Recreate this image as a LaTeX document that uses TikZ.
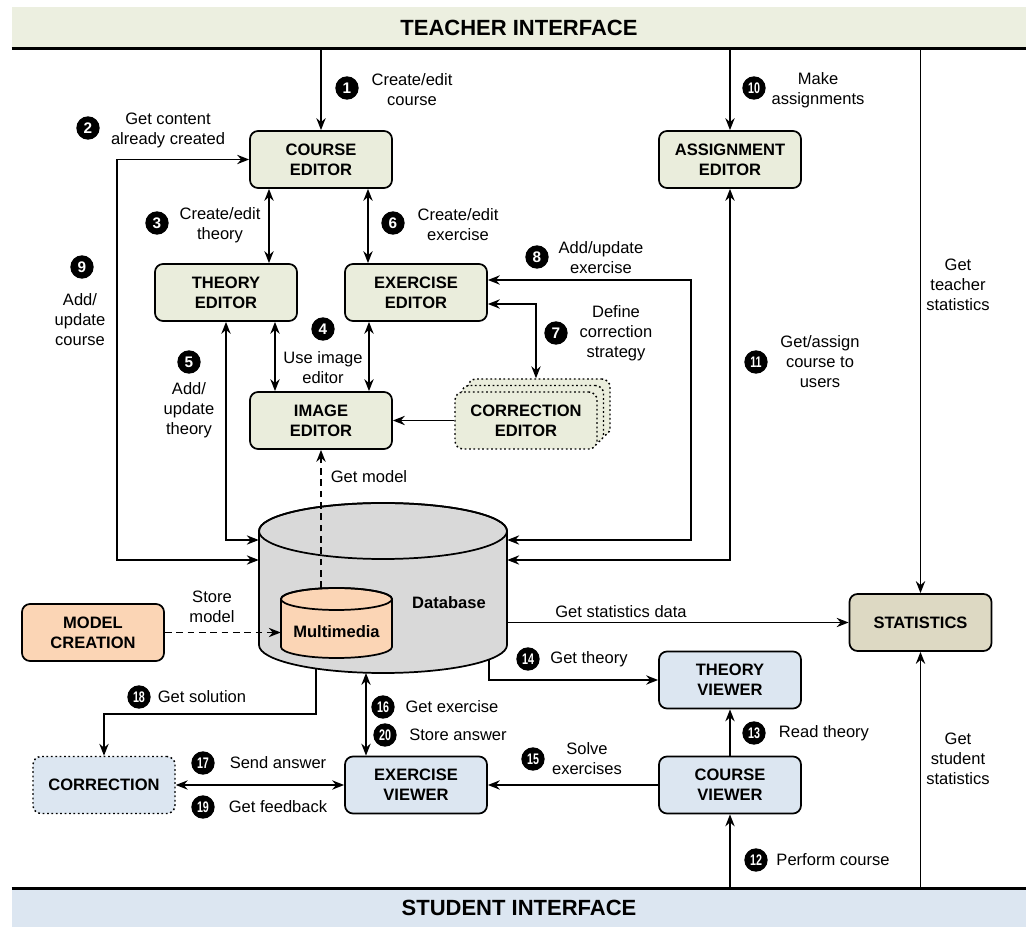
\documentclass[tikz,border=0pt]{standalone}
\usepackage{fontspec}
\setmainfont{Liberation Sans}
\usepackage{graphicx}
\usetikzlibrary{arrows.meta,calc}
\definecolor{edfill}{HTML}{EAEDDC}
\definecolor{tfill}{HTML}{ECEFE0}
\definecolor{vfill}{HTML}{DCE6F1}
\definecolor{stfill}{HTML}{DDD9C3}
\definecolor{peach}{HTML}{FBD5B5}
\definecolor{dbgray}{HTML}{D9D9D9}
\newcommand\lblfont{\fontsize{12.4}{15}\selectfont}
\newcommand\boxfont{\fontsize{12.4}{15}\selectfont\bfseries}
\newcommand\nn[1]{\scalebox{0.7}[1]{#1}}
\begin{document}
\begin{tikzpicture}[x=0.75pt,y=-0.75pt,
  >={Stealth[length=9pt,width=7pt,inset=3pt]},
  conn/.style={line width=1.1pt},
  dsh/.style={dash pattern=on 5pt off 3.5pt},
  box/.style={draw, line width=1.3pt, rounded corners=6pt, minimum width=106.5pt, minimum height=42.75pt, align=center, font=\boxfont, inner sep=2pt},
  edbox/.style={box, fill=edfill},
  vbox/.style={box, fill=vfill},
  dotbox/.style={box, dotted, line width=1.1pt},
  badge/.style={circle, fill=black, text=white, inner sep=0pt, minimum size=17.5pt, font=\fontsize{11.5}{11.5}\selectfont\bfseries},
  lab/.style={align=center, font=\lblfont, inner sep=0pt},
  bar/.style={inner sep=0pt, minimum width=760.5pt, font=\fontsize{16.5}{18}\selectfont\bfseries}
]
\useasboundingbox (0,0) rectangle (1026,927);

% interface bars
\node[bar, fill=tfill, minimum height=30.75pt] (tb) at (519,27.5) {TEACHER INTERFACE};
\draw[line width=2.2pt] (tb.south west) -- (tb.south east);
\node[bar, fill=vfill, minimum height=28.5pt] (sb) at (519,908) {STUDENT INTERFACE};
\draw[line width=2.2pt] (sb.north west) -- (sb.north east);

% editors
\node[edbox] (ce) at (321,159.5) {COURSE\\EDITOR};
\node[edbox] (ae) at (730,159.5) {ASSIGNMENT\\EDITOR};
\node[edbox] (te) at (226,292.5) {THEORY\\EDITOR};
\node[edbox] (ee) at (416,292.5) {EXERCISE\\EDITOR};
\node[edbox] (ie) at (321,420.5) {IMAGE\\EDITOR};
\node[dotbox, fill=edfill] (cor3) at (539,407.5) {};
\node[dotbox, fill=edfill] (cor2) at (532.5,414) {};
\node[dotbox, fill=edfill] (cor) at (526,420.5) {CORRECTION\\EDITOR};

% other boxes
\node[box, fill=peach] (mc) at (93,632.5) {MODEL\\CREATION};
\node[box, fill=stfill] (st) at (920.5,622.5) {STATISTICS};
\node[vbox] (tv) at (730,680) {THEORY\\VIEWER};
\node[vbox] (cv) at (730,785) {COURSE\\VIEWER};
\node[vbox] (ev) at (416,785) {EXERCISE\\VIEWER};
\node[dotbox, fill=vfill] (co) at (104,785) {CORRECTION};

% database cylinder
\filldraw[fill=dbgray, line width=1.3pt] (259,531) -- (259,645)
  arc[start angle=180,end angle=360,x radius=93pt,y radius=21pt] -- (507,531)
  arc[start angle=0,end angle=180,x radius=93pt,y radius=21pt] -- cycle;
\draw[line width=1.3pt] (383,531) ellipse[x radius=93pt,y radius=21pt];
\node[inner sep=0pt, minimum width=186pt, minimum height=127.5pt] (db) at (383,588) {};
\node[font=\boxfont, inner sep=0pt] (dbl) at (449,603) {Database};

% multimedia cylinder
\filldraw[fill=peach, line width=1.3pt] (281,599) -- (281,647)
  arc[start angle=180,end angle=360,x radius=41.625pt,y radius=8.25pt] -- (392,599)
  arc[start angle=0,end angle=180,x radius=41.625pt,y radius=8.25pt] -- cycle;
\draw[line width=1.3pt] (336.5,599) ellipse[x radius=41.625pt,y radius=8.25pt];
\node[font=\boxfont, inner sep=0pt, minimum width=83.25pt] (mm) at (336.5,632) {Multimedia};

% helper coordinates
\coordinate (k3) at (269,230);
\coordinate (k6) at (368,230);
\coordinate (k4a) at (275,360);
\coordinate (k4b) at (369,360);
\coordinate (k5) at (226,540);
\coordinate (k9) at (117,560);
\coordinate (k8a) at (691,280);
\coordinate (k8b) at (691,540);
\coordinate (k7) at (536,304);
\coordinate (k11) at (730,560);
\coordinate (mmt) at (321,588);
\coordinate (dbs18) at (316,669);
\coordinate (k18) at (316,714);
\coordinate (dbs16) at (366,673);
\coordinate (dbs14) at (489,660);

% connectors
\draw[conn,->] (ce.north |- tb.south) -- (ce.north);
\draw[conn,->] (ae.north |- tb.south) -- (ae.north);
\draw[conn,->] (st.north |- tb.south) -- (st.north);
\draw[conn,->] (st.south |- sb.north) -- (st.south);
\draw[conn,->] (cv.south |- sb.north) -- (cv.south);
\draw[conn,->] (cv.north) -- (tv.south);
\draw[conn,->] (cv.west) -- (ev.east);
\draw[conn,<->] (co.east) -- (ev.west);
\draw[conn,<->] (dbs16) -- (dbs16 |- ev.north);
\draw[conn,->] (dbs18) -- (k18) -| (co.north);
\draw[conn,->] (dbs14) |- (tv.west);
\draw[conn,->] (db.east |- st.west) -- (st.west);
\draw[conn,<->] (ae.south) -- (k11) -- (k11 -| db.east);
\draw[conn,<->] (ee.east |- k8a) -- (k8a) -- (k8b) -- (k8b -| db.east);
\draw[conn,<->] (ee.east |- k7) -- (k7) -- (k7 |- cor3.north);
\draw[conn,->] (cor.west) -- (ie.east);
\draw[conn,<->] (ce.south -| k3) -- (te.north -| k3);
\draw[conn,<->] (ce.south -| k6) -- (ee.north -| k6);
\draw[conn,<->] (te.south -| k4a) -- (ie.north -| k4a);
\draw[conn,<->] (ee.south -| k4b) -- (ie.north -| k4b);
\draw[conn,<->] (te.south) -- (k5) -- (k5 -| db.west);
\draw[conn,<->] (ce.west) -| (k9) -- (k9 -| db.west);
\draw[conn,dsh,->] (mmt) -- (ie.south);
\draw[conn,dsh,->] (mc.east) -- (mc.east -| mm.west);

% badges and labels
\node[badge] (b1) at (347,88) {1};
\node[lab] (l1) at (412,90) {Create/edit\\course};
\node[badge] (b2) at (88,128) {2};
\node[lab] (l2) at (168,130) {Get content\\already created};
\node[badge] (b3) at (157,223) {3};
\node[lab] (l3) at (220,225) {Create/edit\\theory};
\node[badge] (b6) at (393,223) {6};
\node[lab] (l6) at (458,225) {Create/edit\\exercise};
\node[badge] (b10) at (754,88) {\nn{10}};
\node[lab] (l10) at (818,90) {Make\\assignments};
\node[badge] (b9) at (82,267) {9};
\node[lab] (l9) at (80,320) {Add/\\update\\course};
\node[badge] (b4) at (323,329) {4};
\node[lab] (l4) at (323,368) {Use image\\editor};
\node[badge] (b5) at (189,362) {5};
\node[lab] (l5) at (189,410) {Add/\\update\\theory};
\node[badge] (b8) at (537,257) {8};
\node[lab] (l8) at (601,258) {Add/update\\exercise};
\node[badge] (b7) at (556,333) {7};
\node[lab] (l7) at (616,333) {Define\\correction\\strategy};
\node[badge] (b11) at (756,362) {\nn{11}};
\node[lab] (l11) at (820,362) {Get/assign\\course to\\users};
\node[lab] (lts) at (958,285) {Get\\teacher\\statistics};
\node[lab] (lgm) at (369,477) {Get model};
\node[lab] (lsm) at (212,607) {Store\\model};
\node[lab] (lgs) at (621,612) {Get statistics data};
\node[badge] (b14) at (528,659) {\nn{14}};
\node[lab] (l14) at (589,659) {Get theory};
\node[badge] (b13) at (754,733) {\nn{13}};
\node[lab] (l13) at (824,733) {Read theory};
\node[badge] (b15) at (533,759) {\nn{15}};
\node[lab] (l15) at (587,759) {Solve\\exercises};
\node[badge] (b12) at (756,860) {\nn{12}};
\node[lab] (l12) at (833,860) {Perform course};
\node[lab] (lss) at (958,759) {Get\\student\\statistics};
\node[badge] (b18) at (139,697) {\nn{18}};
\node[lab] (l18) at (202,697) {Get solution};
\node[badge] (b16) at (383,707) {\nn{16}};
\node[lab] (l16) at (452,707) {Get exercise};
\node[badge] (b20) at (385,735) {\nn{20}};
\node[lab] (l20) at (458,735) {Store answer};
\node[badge] (b17) at (203,763) {\nn{17}};
\node[lab] (l17) at (278,763) {Send answer};
\node[badge] (b19) at (203,807) {\nn{19}};
\node[lab] (l19) at (278,807) {Get feedback};
\end{tikzpicture}
\end{document}
